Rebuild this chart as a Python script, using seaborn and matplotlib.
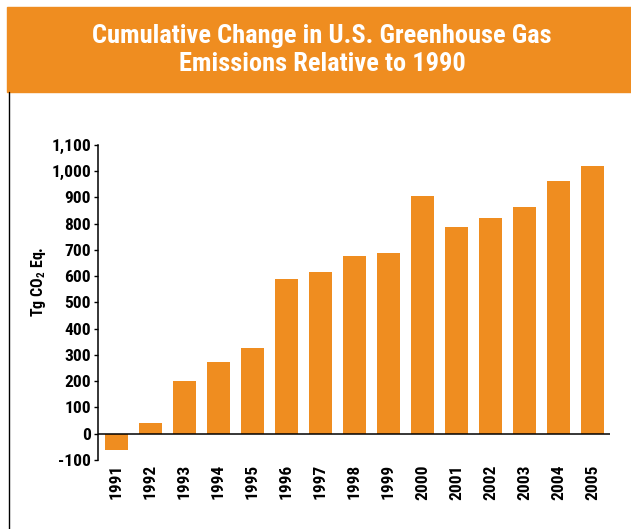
import matplotlib
matplotlib.use("Agg")
import matplotlib.pyplot as plt
import seaborn as sns
import pandas as pd
from matplotlib.patches import Rectangle
from matplotlib.lines import Line2D

years = ["1991", "1992", "1993", "1994", "1995", "1996", "1997", "1998",
         "1999", "2000", "2001", "2002", "2003", "2004", "2005"]
change = [-61, 41, 201, 274, 327, 587, 614, 675, 686, 904, 786, 820, 862, 961, 1019]
yticks = [-100, 0, 100, 200, 300, 400, 500, 600, 700, 800, 900, 1000, 1100]
ytick_labels = ["-100", "0", "100", "200", "300", "400", "500", "600", "700",
                "800", "900", "1,000", "1,100"]
title = "Cumulative Change in U.S. Greenhouse Gas\nEmissions Relative to 1990"

ORANGE = "#EF8D20"

sns.set_style("white")
plt.rcParams["font.family"] = ["Roboto Condensed", "DejaVu Sans"]
plt.rcParams["mathtext.fontset"] = "custom"
plt.rcParams["mathtext.rm"] = "Roboto Condensed:bold"
plt.rcParams["mathtext.bf"] = "Roboto Condensed:bold"

df = pd.DataFrame({"year": years, "change": change})

fig = plt.figure(figsize=(6.31, 5.29), dpi=100)
ax = fig.add_axes([98/631, 1-460/529, (610-98)/631, (460-144.7)/529])

sns.barplot(data=df, x="year", y="change", color=ORANGE, saturation=1,
            width=0.68, ax=ax, edgecolor="none")

ax.set_xlim(-0.54, 14.51)
ax.set_ylim(-100, 1100)
ax.axhline(0, color="black", lw=1.1, zorder=3)
for s in ["top", "right", "bottom"]:
    ax.spines[s].set_visible(False)
ax.spines["left"].set_color("black")
ax.spines["left"].set_linewidth(1.1)
ax.set_yticks(yticks)
ax.set_yticklabels(ytick_labels, fontsize=12.5, fontweight="bold", color="black")
ax.tick_params(axis="y", length=3, width=1, color="black", pad=2, left=True)
ax.tick_params(axis="x", length=0, pad=3)
ax.set_xticks(range(len(years)))
ax.set_xticklabels(years, rotation=90, fontsize=12.5, fontweight="bold", color="black")
ax.set_xlabel("")
ax.set_ylabel(r"Tg CO$_\mathrm{2}$ Eq.", fontsize=11.5, fontweight="bold", color="black")
ax.yaxis.set_label_coords(-0.097, 0.565)

# header band
fig.patches.append(Rectangle((7/631, 1-92/529), 1-7/631, 85/529,
                             transform=fig.transFigure, color=ORANGE, zorder=0))
fig.text(322/631, 1-50/529, title, ha="center", va="center", color="white",
         fontsize=19, fontweight="bold", linespacing=1.25)
fig.lines.append(Line2D([8.5/631, 8.5/631], [0, 1-92/529], transform=fig.transFigure,
                        color="black", lw=1))

fig.savefig("out.png", dpi=100)
